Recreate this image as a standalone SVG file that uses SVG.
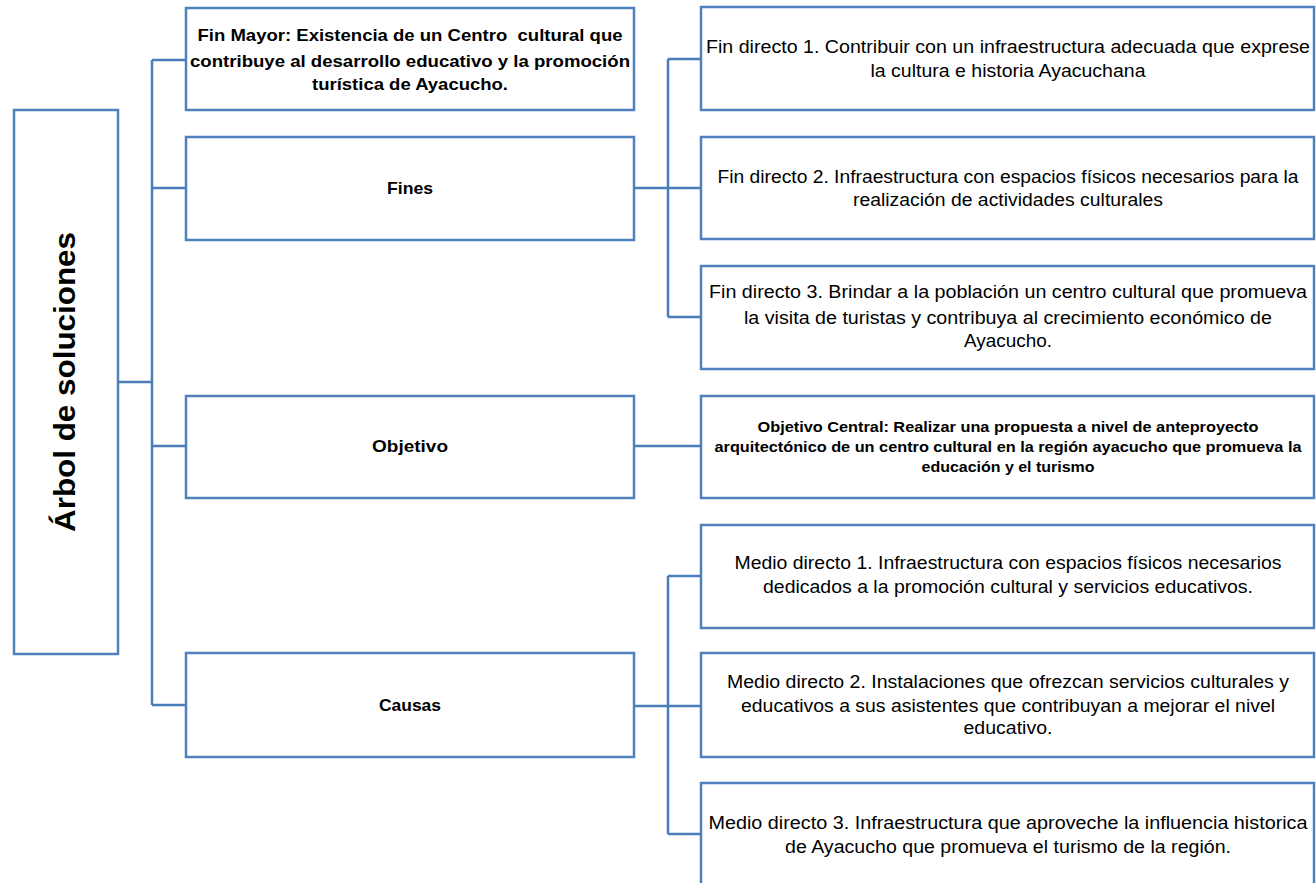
<svg xmlns="http://www.w3.org/2000/svg" width="1316" height="883" viewBox="0 0 1316 883">
<style>
.box{fill:#ffffff;stroke:#4f81bd;stroke-width:2.5}
.con{fill:none;stroke:#4a7ebb;stroke-width:2.5}
.t{font-family:"Liberation Sans",Arial,sans-serif;font-size:17.5px;fill:#000;text-anchor:middle}
.b{font-family:"Liberation Sans",Arial,sans-serif;font-size:17px;font-weight:bold;fill:#000;text-anchor:middle;white-space:pre}
.s{font-family:"Liberation Sans",Arial,sans-serif;font-size:14px;font-weight:bold;fill:#000;text-anchor:middle}
.title{font-family:"Liberation Sans",Arial,sans-serif;font-size:30px;font-weight:bold;fill:#000;text-anchor:middle}
</style>
<rect width="1316" height="883" fill="#ffffff"/>
<g id="connectors">
<path class="con" d="M118,382 H152 M152,60 V705 M152,60 H186 M152,188 H186 M152,446 H186 M152,705 H186"/>
<path class="con" d="M634,188 H668 M668,59 V317 M668,59 H701 M668,188 H701 M668,317 H701"/>
<path class="con" d="M634,446 H701"/>
<path class="con" d="M634,706 H668 M668,576 V834 M668,576 H701 M668,706 H701 M668,834 H701"/>
</g>
<g id="root">
<rect class="box" x="14" y="110" width="104" height="544"/>
<text class="title" transform="translate(75,382) rotate(-90)" textLength="300" lengthAdjust="spacingAndGlyphs">Árbol de soluciones</text>
</g>
<g id="fin-mayor">
<rect class="box" x="186" y="8" width="448" height="102"/>
<text class="b" x="410" y="41" textLength="425" lengthAdjust="spacingAndGlyphs" xml:space="preserve">Fin Mayor: Existencia de un Centro  cultural que</text>
<text class="b" x="410" y="67" textLength="440" lengthAdjust="spacingAndGlyphs">contribuye al desarrollo educativo y la promoción</text>
<text class="b" x="410" y="90" textLength="196" lengthAdjust="spacingAndGlyphs">turística de Ayacucho.</text>
</g>
<g id="fines">
<rect class="box" x="186" y="137" width="448" height="103"/>
<text class="b" x="410" y="194" textLength="46" lengthAdjust="spacingAndGlyphs">Fines</text>
</g>
<g id="objetivo">
<rect class="box" x="186" y="396" width="448" height="102"/>
<text class="b" x="410" y="452" textLength="76" lengthAdjust="spacingAndGlyphs">Objetivo</text>
</g>
<g id="causas">
<rect class="box" x="186" y="653" width="448" height="104"/>
<text class="b" x="410" y="711" textLength="62" lengthAdjust="spacingAndGlyphs">Causas</text>
</g>
<g id="fin-directo-1">
<rect class="box" x="701" y="7" width="613" height="103"/>
<text class="t" x="1008" y="53" textLength="604" lengthAdjust="spacingAndGlyphs">Fin directo 1. Contribuir con un infraestructura adecuada que exprese</text>
<text class="t" x="1008" y="77" textLength="275" lengthAdjust="spacingAndGlyphs">la cultura e historia Ayacuchana</text>
</g>
<g id="fin-directo-2">
<rect class="box" x="701" y="137" width="613" height="102"/>
<text class="t" x="1008" y="183" textLength="581" lengthAdjust="spacingAndGlyphs">Fin directo 2. Infraestructura con espacios físicos necesarios para la</text>
<text class="t" x="1008" y="206" textLength="310" lengthAdjust="spacingAndGlyphs">realización de actividades culturales</text>
</g>
<g id="fin-directo-3">
<rect class="box" x="701" y="266" width="613" height="103"/>
<text class="t" x="1008" y="298" textLength="598" lengthAdjust="spacingAndGlyphs">Fin directo 3. Brindar a la población un centro cultural que promueva</text>
<text class="t" x="1008" y="324" textLength="528" lengthAdjust="spacingAndGlyphs">la visita de turistas y contribuya al crecimiento económico de</text>
<text class="t" x="1008" y="347" textLength="88" lengthAdjust="spacingAndGlyphs">Ayacucho.</text>
</g>
<g id="objetivo-central">
<rect class="box" x="701" y="396" width="613" height="102"/>
<text class="s" x="1008" y="432" textLength="501" lengthAdjust="spacingAndGlyphs">Objetivo Central: Realizar una propuesta a nivel de anteproyecto</text>
<text class="s" x="1008" y="452" textLength="587" lengthAdjust="spacingAndGlyphs">arquitectónico de un centro cultural en la región ayacucho que promueva la</text>
<text class="s" x="1008" y="472" textLength="173" lengthAdjust="spacingAndGlyphs">educación y el turismo</text>
</g>
<g id="medio-directo-1">
<rect class="box" x="701" y="525" width="613" height="103"/>
<text class="t" x="1008" y="569" textLength="547" lengthAdjust="spacingAndGlyphs">Medio directo 1. Infraestructura con espacios físicos necesarios</text>
<text class="t" x="1008" y="593" textLength="490" lengthAdjust="spacingAndGlyphs">dedicados a la promoción cultural y servicios educativos.</text>
</g>
<g id="medio-directo-2">
<rect class="box" x="701" y="653" width="613" height="104"/>
<text class="t" x="1008" y="688" textLength="562" lengthAdjust="spacingAndGlyphs">Medio directo 2. Instalaciones que ofrezcan servicios culturales y</text>
<text class="t" x="1008" y="712" textLength="534" lengthAdjust="spacingAndGlyphs">educativos a sus asistentes que contribuyan a mejorar el nivel</text>
<text class="t" x="1008" y="734" textLength="89" lengthAdjust="spacingAndGlyphs">educativo.</text>
</g>
<g id="medio-directo-3">
<rect class="box" x="701" y="783" width="613" height="120"/>
<text class="t" x="1008" y="829" textLength="599" lengthAdjust="spacingAndGlyphs">Medio directo 3. Infraestructura que aproveche la influencia historica</text>
<text class="t" x="1008" y="853" textLength="446" lengthAdjust="spacingAndGlyphs">de Ayacucho que promueva el turismo de la región.</text>
</g>
</svg>
